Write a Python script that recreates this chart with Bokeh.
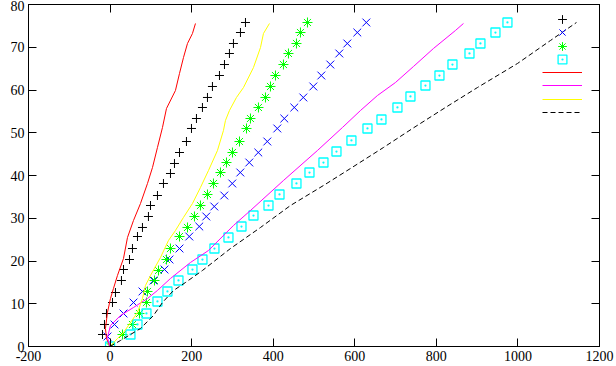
from bokeh.plotting import figure
from bokeh.models import LinearAxis, FixedTicker, Legend, LegendItem, CustomLabelingPolicy
from bokeh.embed import file_html
from bokeh.resources import INLINE

# ---- axis ticks ----
x_ticks = [-200, 0, 200, 400, 600, 800, 1000, 1200]
x_tick_labels = ["-200", "0", "200", "400", "600", "800", "1000", "1200"]
y_ticks = [0, 10, 20, 30, 40, 50, 60, 70, 80]
y_tick_labels = ["0", "10", "20", "30", "40", "50", "60", "70", "80"]

# ---- series 1 (black plus points) ----
s1_x = [-18.6, -13.7, -8.8, 5.9, 13.2, 27.9, 32.9, 47.6, 54.9, 67.2, 79.4, 94.1, 99.1, 116.2, 130.9,
        148.1, 157.9, 170.2, 187.3, 199.6, 211.8, 226.5, 238.8, 251.0, 268.2, 280.5, 292.7, 302.5, 319.7, 332.0]
s1_y = [2.81, 5.15, 7.72, 10.29, 12.63, 15.44, 18.01, 20.35, 22.92, 25.73, 27.84, 30.41, 32.98, 35.32, 38.13,
        40.47, 42.81, 45.38, 47.95, 51.0, 53.33, 55.91, 58.25, 60.82, 63.39, 65.96, 68.54, 70.88, 73.45, 75.79]

# ---- series 2 (blue x points) ----
s2_x = [-6.4, 10.8, 32.9, 57.4, 79.4, 106.4, 133.4, 145.6, 170.2, 194.2, 218.7, 235.9, 255.5, 280.0, 299.6,
        319.3, 341.3, 363.4, 385.5, 410.0, 427.2, 451.7, 473.8, 498.3, 517.9, 540.0, 562.0, 581.7, 606.2, 628.3]
s2_y = [2.34, 5.15, 7.72, 10.29, 12.87, 15.44, 18.01, 20.35, 22.92, 25.73, 28.07, 30.41, 32.75, 35.32, 38.13,
        40.70, 43.04, 45.38, 47.95, 51.0, 53.33, 55.91, 58.25, 60.82, 63.39, 65.96, 68.54, 70.88, 73.45, 75.79]

# ---- series 3 (green star points) ----
s3_x = [0.0, 30.4, 54.9, 72.1, 89.2, 91.7, 108.9, 118.7, 138.3, 148.1, 170.2, 189.8, 206.9, 221.6, 238.8, 253.5,
        270.7, 285.4, 300.1, 317.3, 334.5, 344.2, 363.8, 381.0, 393.3, 405.5, 425.1, 437.4, 457.0, 466.8, 484.0]
s3_y = [0.0, 2.81, 5.15, 7.72, 10.29, 12.87, 15.44, 17.78, 20.35, 22.92, 25.73, 27.84, 30.41, 32.98, 35.56, 38.13,
        40.70, 43.04, 45.38, 47.95, 51.0, 53.33, 55.91, 58.25, 60.82, 63.39, 65.96, 68.54, 70.88, 73.45, 75.79]

# ---- series 4 (cyan box points) ----
s4_x = [0.0, 50.0, 67.2, 89.2, 116.2, 140.7, 167.7, 202.0, 226.5, 255.9, 290.3, 322.2, 351.6, 388.4, 415.4, 457.0,
        488.9, 523.2, 555.1, 591.8, 631.1, 665.4, 704.6, 736.5, 773.3, 807.6, 839.5, 881.2, 908.1, 944.9, 974.3]
s4_y = [0.0, 2.81, 5.15, 7.72, 10.53, 12.87, 15.44, 18.01, 20.35, 22.92, 25.50, 28.07, 30.64, 32.98, 35.56, 38.13,
        40.70, 43.04, 45.61, 48.19, 51.0, 53.10, 55.91, 58.48, 61.05, 63.39, 65.96, 68.54, 70.88, 73.45, 75.79]

# ---- series 5 (red line) ----
s5_x = [0.0, -8.8, -11.3, -6.4, 1.0, 8.3, 18.1, 32.9, 42.7, 57.4, 74.6, 91.7, 104.0, 116.2, 128.5, 138.3,
        160.3, 170.2, 180.0, 189.8, 202.0, 209.4]
s5_y = [0.0, 1.87, 4.21, 7.95, 11.23, 13.57, 16.61, 20.58, 25.50, 29.47, 33.45, 38.13, 41.87, 46.55, 51.23, 55.67,
        59.88, 63.86, 67.60, 70.88, 73.22, 75.56]

# ---- series 6 (magenta line) ----
s6_x = [0.0, -6.4, 1.0, 25.5, 57.4, 91.7, 116.2, 148.1, 197.1, 241.3, 302.5, 344.2, 425.1, 508.5, 569.8, 613.9,
        655.6, 699.7, 743.9, 792.9, 846.8, 866.5]
s6_y = [0.0, 2.11, 4.91, 7.25, 9.12, 11.23, 13.10, 15.91, 19.65, 22.46, 28.30, 31.81, 38.83, 45.85, 51.23, 55.20,
        58.71, 61.75, 65.50, 69.71, 73.92, 75.56]

# ---- series 7 (yellow line) ----
s7_x = [0.0, 18.1, 32.9, 50.0, 67.2, 79.4, 86.8, 99.1, 123.6, 143.2, 160.3, 179.9, 202.0, 221.6, 241.3, 263.3,
        278.0, 282.9, 292.7, 309.9, 327.1, 351.6, 368.8, 376.1, 390.8]
s7_y = [0.0, 1.87, 3.27, 5.61, 7.95, 11.23, 14.27, 16.61, 20.82, 24.80, 27.13, 30.18, 33.45, 37.19, 41.17, 45.85,
        50.53, 52.87, 55.20, 58.25, 60.58, 65.26, 69.94, 73.22, 75.56]

# ---- series 8 (black dashed line) ----
s8_x = [0.0, 25.5, 74.5, 106.4, 128.5, 155.5, 184.9, 226.5, 295.2, 368.8, 442.3, 523.2, 589.4, 670.3, 741.4,
        822.3, 900.8, 998.9, 1079.8, 1143.5]
s8_y = [0.0, 1.40, 4.21, 7.25, 10.29, 13.10, 14.97, 17.78, 22.92, 27.84, 32.98, 37.66, 41.64, 46.55, 50.99,
        55.91, 60.58, 66.20, 71.58, 75.79]

FONT = "Liberation Serif"

p = figure(width=616, height=366, x_range=(-200, 1200), y_range=(0, 80),
           output_backend="svg", toolbar_location=None,
           min_border_left=28, min_border_right=17, min_border_top=4, min_border_bottom=20)
p.grid.visible = False
p.background_fill_color = "white"
p.border_fill_color = "white"
p.outline_line_color = "black"
p.outline_line_width = 1

hide_labels = CustomLabelingPolicy(code="""
    const all = [...indices]
    for (const i of all) indices.unset(i)
    return indices
""")


def style_axis(ax, ticks, labels, show_labels=True):
    ax.ticker = FixedTicker(ticks=ticks)
    ax.major_tick_in = 8
    ax.major_tick_out = 0
    ax.minor_tick_in = 0
    ax.minor_tick_out = 0
    ax.axis_line_color = "black"
    ax.major_tick_line_color = "black"
    if show_labels:
        ax.major_label_overrides = dict(zip(ticks, labels))
        ax.major_label_text_font = FONT
        ax.major_label_text_font_size = "14px"
        ax.major_label_text_color = "black"
        ax.major_label_standoff = 4
    else:
        ax.major_label_policy = hide_labels
        ax.major_label_text_font_size = "1px"
        ax.major_label_standoff = 0


style_axis(p.xaxis[0], x_ticks, x_tick_labels)
p.xaxis[0].major_label_standoff = 4
style_axis(p.yaxis[0], y_ticks, y_tick_labels)

top_axis = LinearAxis()
style_axis(top_axis, x_ticks, x_tick_labels, show_labels=False)
p.add_layout(top_axis, "above")
right_axis = LinearAxis()
style_axis(right_axis, y_ticks, y_tick_labels, show_labels=False)
p.add_layout(right_axis, "right")

r1 = p.scatter(s1_x, s1_y, marker="cross", size=9, line_color="black", line_width=1)
r2 = p.scatter(s2_x, s2_y, marker="x", size=11, line_color="#0000ff", line_width=1)
r3 = p.scatter(s3_x, s3_y, marker="asterisk", size=10, line_color="#00ff00", line_width=1)
r4 = p.scatter(s4_x, s4_y, marker="square_dot", size=9, line_color="#00ffff", fill_color=None, line_width=1.3)
r5 = p.line(s5_x, s5_y, line_color="#ff0000", line_width=1)
r6 = p.line(s6_x, s6_y, line_color="#ff00ff", line_width=1)
r7 = p.line(s7_x, s7_y, line_color="#ffff00", line_width=1)
r8 = p.line(s8_x, s8_y, line_color="black", line_width=1, line_dash="5 3")

renderers = [r1, r2, r3, r4, r5, r6, r7, r8]
for i, r in enumerate(renderers):
    leg = Legend(items=[LegendItem(label=" ", renderers=[r])],
                 location=(514, round(316 - 13.3 * i)),
                 glyph_width=40, glyph_height=22, label_width=0, label_height=22,
                 label_standoff=0, padding=0, spacing=0, margin=0,
                 border_line_color=None, background_fill_alpha=0,
                 label_text_font_size="1px")
    p.add_layout(leg)

open("out.html", "w").write(file_html(p, INLINE))
